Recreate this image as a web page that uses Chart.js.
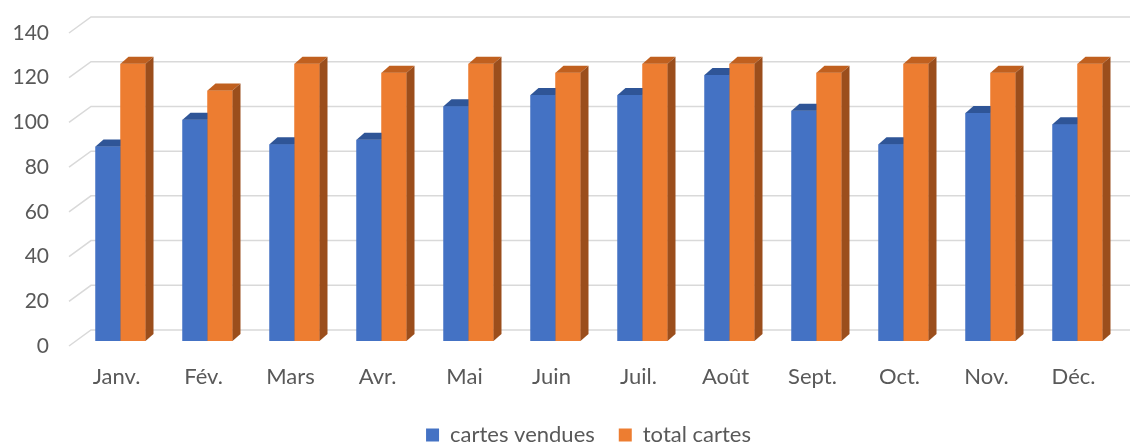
<!DOCTYPE html>
<html>
<head>
<meta charset="utf-8">
<script src="https://cdn.jsdelivr.net/npm/chart.js@4.4.1/dist/chart.umd.min.js"></script>
<style>
  html, body { margin: 0; padding: 0; background: #ffffff; }
  #wrap { width: 1130px; height: 445px; }
</style>
</head>
<body>
<div id="wrap"><canvas id="chart" width="1130" height="445"></canvas></div>
<script>
// Données
const mois = ['Janv.', 'Fév.', 'Mars', 'Avr.', 'Mai', 'Juin', 'Juil.', 'Août', 'Sept.', 'Oct.', 'Nov.', 'Déc.'];
const cartesVendues = [87, 99, 88, 90, 105, 110, 110, 119, 103, 88, 102, 97];
const totalCartes = [124, 112, 124, 120, 124, 120, 124, 124, 120, 124, 120, 124];
const ticksY = [0, 20, 40, 60, 80, 100, 120, 140];

// Couleurs façon Excel
const couleurs = {
    bleu: '#4472c4',
    bleuHaut: '#2f5597',
    bleuCote: '#2a4d8a',
    orange: '#ed7d31',
    orangeHaut: '#c0601f',
    orangeCote: '#9b4e1c',
    grille: '#d9d9d9',
    texte: '#595959'
};

const PROF_X = 8;   // profondeur des barres (décalage horizontal)
const PROF_Y = 7;   // profondeur des barres (décalage vertical)

// Grille "3D" : petite diagonale à gauche puis ligne sur le mur du fond
const grille3D = {
    id: 'grille3D',
    beforeDatasetsDraw(chart) {
        const ctx = chart.ctx;
        const area = chart.chartArea;
        const y = chart.scales.y;
        ctx.save();
        ctx.strokeStyle = couleurs.grille;
        ctx.lineWidth = 1.5;
        ticksY.forEach(function(v) {
            const py = y.getPixelForValue(v);
            ctx.beginPath();
            ctx.moveTo(area.left - 8, py + 5);
            ctx.lineTo(area.left + 14, py - 11);
            ctx.lineTo(chart.width, py - 11);
            ctx.stroke();
        });
        ctx.restore();
    }
};

// Faces du dessus et du côté pour chaque barre
const barres3D = {
    id: 'barres3D',
    afterDatasetsDraw(chart) {
        const ctx = chart.ctx;
        const meta0 = chart.getDatasetMeta(0);
        const meta1 = chart.getDatasetMeta(1);
        const styles = [
            { front: couleurs.bleu, top: couleurs.bleuHaut, side: couleurs.bleuCote },
            { front: couleurs.orange, top: couleurs.orangeHaut, side: couleurs.orangeCote }
        ];
        ctx.save();
        mois.forEach(function(m, i) {
            [meta0.data[i], meta1.data[i]].forEach(function(bar, k) {
                const s = styles[k];
                const l = bar.x - bar.width / 2;
                const r = bar.x + bar.width / 2;
                // face avant (repeinte pour masquer la barre voisine)
                ctx.fillStyle = s.front;
                ctx.fillRect(l, bar.y, bar.width, bar.base - bar.y);
                // dessus
                ctx.fillStyle = s.top;
                ctx.beginPath();
                ctx.moveTo(l, bar.y);
                ctx.lineTo(l + PROF_X, bar.y - PROF_Y);
                ctx.lineTo(r + PROF_X, bar.y - PROF_Y);
                ctx.lineTo(r, bar.y);
                ctx.closePath();
                ctx.fill();
                // côté
                ctx.fillStyle = s.side;
                ctx.beginPath();
                ctx.moveTo(r, bar.y);
                ctx.lineTo(r + PROF_X, bar.y - PROF_Y);
                ctx.lineTo(r + PROF_X, bar.base - PROF_Y);
                ctx.lineTo(r, bar.base);
                ctx.closePath();
                ctx.fill();
            });
        });
        ctx.restore();
    }
};

// Légende un peu décalée comme dans Excel
const decalageLegende = {
    id: 'decalageLegende',
    afterLayout(chart) {
        const lg = chart.legend;
        lg.left += 28;
        lg.right += 28;
        lg.top -= 1;
        lg.bottom -= 1;
    }
};

Chart.defaults.font.family = "Lato, 'Open Sans', sans-serif";
Chart.defaults.font.size = 22;
Chart.defaults.color = couleurs.texte;

new Chart(document.getElementById('chart'), {
    type: 'bar',
    data: {
        labels: mois,
        datasets: [
            { label: 'cartes vendues', data: cartesVendues, backgroundColor: couleurs.bleu, borderWidth: 0 },
            { label: 'total cartes', data: totalCartes, backgroundColor: couleurs.orange, borderWidth: 0 }
        ]
    },
    options: {
        responsive: false,
        animation: false,
        devicePixelRatio: 1,
        layout: { autoPadding: false, padding: { left: 0, right: 9, top: 28, bottom: 0 } },
        datasets: {
            bar: { categoryPercentage: 50 / 87, barPercentage: 1 }
        },
        plugins: {
            legend: {
                position: 'bottom',
                maxHeight: 44,
                labels: { boxWidth: 13, boxHeight: 13, padding: 24, color: couleurs.texte }
            },
            tooltip: { enabled: false }
        },
        scales: {
            x: {
                grid: { display: false, drawTicks: false },
                border: { display: false },
                ticks: { padding: 23, labelOffset: -4, color: couleurs.texte },
                afterFit(scale) { scale.height = 60; }
            },
            y: {
                min: 0,
                max: 140,
                grid: { display: false, drawTicks: false },
                border: { display: false },
                ticks: { stepSize: 20, padding: 28, labelOffset: 5, color: couleurs.texte, font: { size: 21 } },
                afterFit(scale) {
                    scale.width = 77;
                    scale.paddingTop = 0;
                    scale.paddingBottom = 0;
                }
            }
        }
    },
    plugins: [grille3D, barres3D, decalageLegende]
});
</script>
</body>
</html>
